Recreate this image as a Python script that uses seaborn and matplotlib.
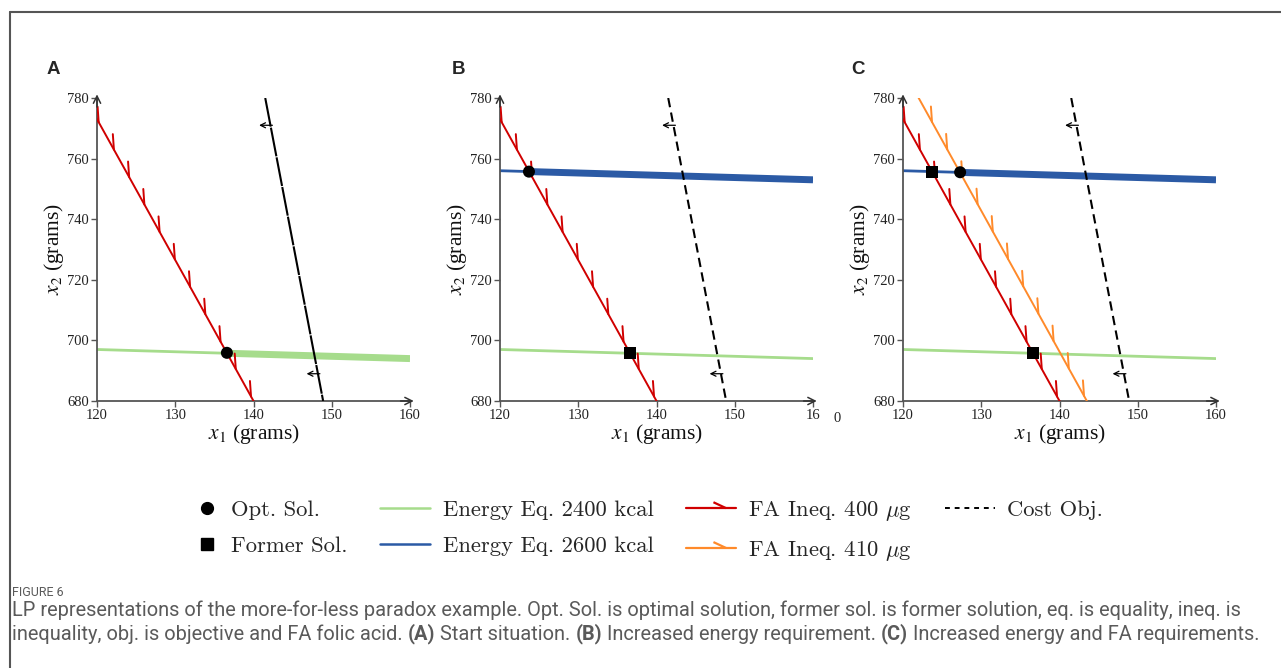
import numpy as np
import matplotlib
matplotlib.use('Agg')
import matplotlib.pyplot as plt
import matplotlib.patheffects as pe
from matplotlib.lines import Line2D
from matplotlib.legend_handler import HandlerLine2D
from matplotlib import font_manager
import seaborn as sns

# ---------------- data ----------------
panels = ['A', 'B', 'C']
x_ticks = [120, 130, 140, 150, 160]
y_ticks = [680, 700, 720, 740, 760, 780]
x_lim = [120, 160]
y_lim = [680, 780]

# constraint lines (end points lie slightly outside the frame and are clipped)
fa400_x = [119.25, 140.65]
fa400_y = [776.5, 677.0]
fa410_x = [120.8, 144.1]
fa410_y = [785.6, 677.2]
en2400_x = [120, 160]
en2400_y = [697, 694]
en2600_x = [120, 160]
en2600_y = [756, 753]
cost_x = [141.5, 148.9]
cost_y = [780, 680]
cost_arrow_y = [771, 689]

# energy line whose feasible part is drawn thick, and where that part starts
thick_line = {'A': 'en2400', 'B': 'en2600', 'C': 'en2600'}
thick_start_x = {'A': 136.6, 'B': 123.7, 'C': 127.3}
show_2600 = {'A': False, 'B': True, 'C': True}
show_410 = {'A': False, 'B': False, 'C': True}

opt_x = {'A': [136.6], 'B': [123.7], 'C': [127.3]}
opt_y = {'A': [695.9], 'B': [755.7], 'C': [755.5]}
former_x = {'A': [], 'B': [136.6], 'C': [123.7, 136.6]}
former_y = {'A': [], 'B': [695.9], 'C': [755.7, 695.9]}

legend_labels = ['Opt. Sol.', 'Former Sol.', 'Energy Eq. 2400 kcal', 'Energy Eq. 2600 kcal',
                 r'FA Ineq. 400 $\mu$g', r'FA Ineq. 410 $\mu$g', 'Cost Obj.']

caption_title = 'FIGURE 6'
caption_line1 = [('LP representations of the more-for-less paradox example. Opt. Sol. is optimal solution, '
                  'former sol. is former solution, eq. is equality, ineq. is', 'normal')]
caption_line2 = [('inequality, obj. is objective and FA folic acid.', 'normal'), ('(A)', 'bold'),
                 ('Start situation.', 'normal'), ('(B)', 'bold'),
                 ('Increased energy requirement.', 'normal'), ('(C)', 'bold'),
                 ('Increased energy and FA requirements.', 'normal')]

# ---------------- style ----------------
sns.set_style('ticks')
plt.rcParams['font.family'] = ['Liberation Serif', 'DejaVu Serif']
plt.rcParams['mathtext.fontset'] = 'stix'

GREEN = '#a6dc8c'
BLUE = '#2b5aa5'
RED = '#d00000'
ORANGE = '#ff8a2a'
SPINE = '#555555'

W, H = 1281, 668
fig = plt.figure(figsize=(W / 100, H / 100), dpi=100)

ax_lefts = [97, 500, 903]
ax_top, ax_bottom, ax_w = 98, 401, 313


def ticked(spacing=22.4):
    return [pe.withTickedStroke(angle=155, spacing=spacing, length=0.5, linewidth=1.4)]


lines = {'en2400': (en2400_x, en2400_y, GREEN), 'en2600': (en2600_x, en2600_y, BLUE)}

for p, left in zip(panels, ax_lefts):
    ax = fig.add_axes([left / W, 1 - ax_bottom / H, ax_w / W, (ax_bottom - ax_top) / H])
    sns.lineplot(x=en2400_x, y=en2400_y, color=GREEN, lw=2, ax=ax, zorder=2)
    if show_2600[p]:
        sns.lineplot(x=en2600_x, y=en2600_y, color=BLUE, lw=2, ax=ax, zorder=2)
    lx, ly, lc = lines[thick_line[p]]
    sx = [thick_start_x[p], lx[-1]]
    sy = list(np.interp(sx, lx, ly))
    sns.lineplot(x=sx, y=sy, color=lc, lw=5, ax=ax, zorder=2, solid_capstyle='butt')
    sns.lineplot(x=fa400_x, y=fa400_y, color=RED, lw=1.4, ax=ax, zorder=3, path_effects=ticked())
    if show_410[p]:
        sns.lineplot(x=fa410_x, y=fa410_y, color=ORANGE, lw=1.4, ax=ax, zorder=3, path_effects=ticked())
    ls = (0, (14, 0.5)) if p == 'A' else (0, (4.5, 2.6))
    sns.lineplot(x=cost_x, y=cost_y, color='black', lw=1.5, ax=ax, zorder=4, linestyle=ls)
    for yy in cost_arrow_y:
        tail = float(np.interp(yy, cost_y[::-1], cost_x[::-1])) + 0.25
        ax.annotate('', xy=(tail - 1.7, yy), xytext=(tail, yy),
                    arrowprops=dict(arrowstyle='->', color='black', lw=0.9, shrinkA=0, shrinkB=0,
                                    mutation_scale=9), zorder=5)
    sns.scatterplot(x=opt_x[p], y=opt_y[p], marker='o', s=75, color='black', edgecolor='none',
                    ax=ax, zorder=6)
    if former_x[p]:
        sns.scatterplot(x=former_x[p], y=former_y[p], marker='s', s=75, color='black',
                        edgecolor='none', ax=ax, zorder=6)

    ax.set_xlim(x_lim)
    ax.set_ylim(y_lim)
    ax.set_xticks(x_ticks)
    ax.set_yticks(y_ticks)
    if p == 'B':
        ax.set_xticklabels([str(t) for t in x_ticks[:-1]] + ['16'])
    for s in ['top', 'right']:
        ax.spines[s].set_visible(False)
    for s in ['left', 'bottom']:
        ax.spines[s].set_color(SPINE)
        ax.spines[s].set_linewidth(1.3)
    ax.tick_params(direction='out', length=4, width=1, color=SPINE, labelsize=10.5,
                   labelcolor='#222222', pad=2)
    ax.set_xlabel(r'$x_1$ (grams)', fontsize=15.5, labelpad=0, color='#111111')
    ax.set_ylabel(r'$x_2$ (grams)', fontsize=15.5, labelpad=1, color='#111111')
    ax.annotate('', xy=(1.012, 0), xytext=(0.97, 0), xycoords='axes fraction',
                arrowprops=dict(arrowstyle='->', color='#333333', lw=1.1, shrinkA=0, shrinkB=0,
                                mutation_scale=13), annotation_clip=False)
    ax.annotate('', xy=(0, 1.012), xytext=(0, 0.97), xycoords='axes fraction',
                arrowprops=dict(arrowstyle='->', color='#333333', lw=1.1, shrinkA=0, shrinkB=0,
                                mutation_scale=13), annotation_clip=False)

# stray clipped digit from the original figure
fig.text(837 / W, 1 - 418 / H, '0', fontsize=10.5, color='#222222', ha='center', va='center')

# panel letters
for p, x in zip(panels, [47, 452, 851]):
    fig.text(x / W, 1 - 70 / H, p, fontsize=13.5, fontweight='bold', family='Liberation Sans',
             va='center', ha='left')


class RightMarker(HandlerLine2D):
    def get_xdata(self, legend, xdescent, ydescent, width, height, fontsize):
        xd = [-xdescent + 0.52 * width, -xdescent + width]
        return xd, [-xdescent + 0.76 * width]


class TickHandler(HandlerLine2D):
    def create_artists(self, legend, orig_handle, xdescent, ydescent, width, height, fontsize, trans):
        arts = super().create_artists(legend, orig_handle, xdescent, ydescent, width, height,
                                      fontsize, trans)
        x0 = -xdescent + 0.8 * width
        y0 = (height - ydescent) / 2
        tick = Line2D([x0, x0 - 0.62 * fontsize * 0.9], [y0, y0 + 0.29 * fontsize * 0.9],
                      color=orig_handle.get_color(), lw=orig_handle.get_linewidth(),
                      transform=trans, solid_capstyle='butt')
        return list(arts) + [tick]


handles = [
    Line2D([], [], marker='o', ls='', color='black', ms=8.5),
    Line2D([], [], marker='s', ls='', color='black', ms=8.5),
    Line2D([], [], color=GREEN, lw=1.8),
    Line2D([], [], color=BLUE, lw=1.8),
    Line2D([], [], color=RED, lw=1.6),
    Line2D([], [], color=ORANGE, lw=1.6),
    Line2D([], [], color='black', lw=1.4, linestyle=(0, (2.5, 2.5))),
]
leg = fig.legend(handles, legend_labels, ncol=4, loc='center', bbox_to_anchor=(0.4965, 1 - 531 / H),
                 frameon=False, prop={'family': 'cmr10', 'size': 16.3}, handlelength=2.2,
                 handletextpad=0.55, columnspacing=1.45, labelspacing=0.7,
                 handler_map={handles[0]: RightMarker(), handles[1]: RightMarker(),
                              handles[4]: TickHandler(), handles[5]: TickHandler()})
for t in leg.get_texts():
    t.set_math_fontfamily('cm')

# frame lines
fig.add_artist(Line2D([10 / W, 10 / W], [0, 1 - 12 / H], color='#555555', lw=1.5,
                      transform=fig.transFigure))
fig.add_artist(Line2D([10 / W, 1], [1 - 12 / H, 1 - 12 / H], color='#555555', lw=1.5,
                      transform=fig.transFigure))

# caption
CAP = '#5a5a5a'
avail = {f.name for f in font_manager.fontManager.ttflist}
CFONT = 'Liberation Sans Narrow' if 'Liberation Sans Narrow' in avail else 'Roboto'
renderer = fig.canvas.get_renderer()
fig.text(12 / W, 1 - 592 / H, caption_title, fontsize=9, family=CFONT, color=CAP, va='center')


def measure(s, size, weight):
    t = fig.text(0, 0, s, fontsize=size, family=CFONT, fontweight=weight)
    w = t.get_window_extent(renderer).width
    t.remove()
    return w


def space_w(size):
    return measure('x x', size, 'normal') - measure('xx', size, 'normal')


def line_width(runs, size):
    return sum(measure(s, size, w) for s, w in runs) + space_w(size) * (len(runs) - 1)


base = 12.0
size = min(base * 1250 / line_width(caption_line1, base),
           base * 1250 / line_width(caption_line2, base))


def draw_runs(runs, x0, ypx, size):
    x = x0
    sp = space_w(size)
    for s, w in runs:
        t = fig.text(x / W, 1 - ypx / H, s, fontsize=size, family=CFONT, fontweight=w,
                     color=CAP, va='center', ha='left')
        x += t.get_window_extent(renderer).width + sp


draw_runs(caption_line1, 12, 610, size)
draw_runs(caption_line2, 12, 634, size)

fig.savefig('out.png', dpi=100)
